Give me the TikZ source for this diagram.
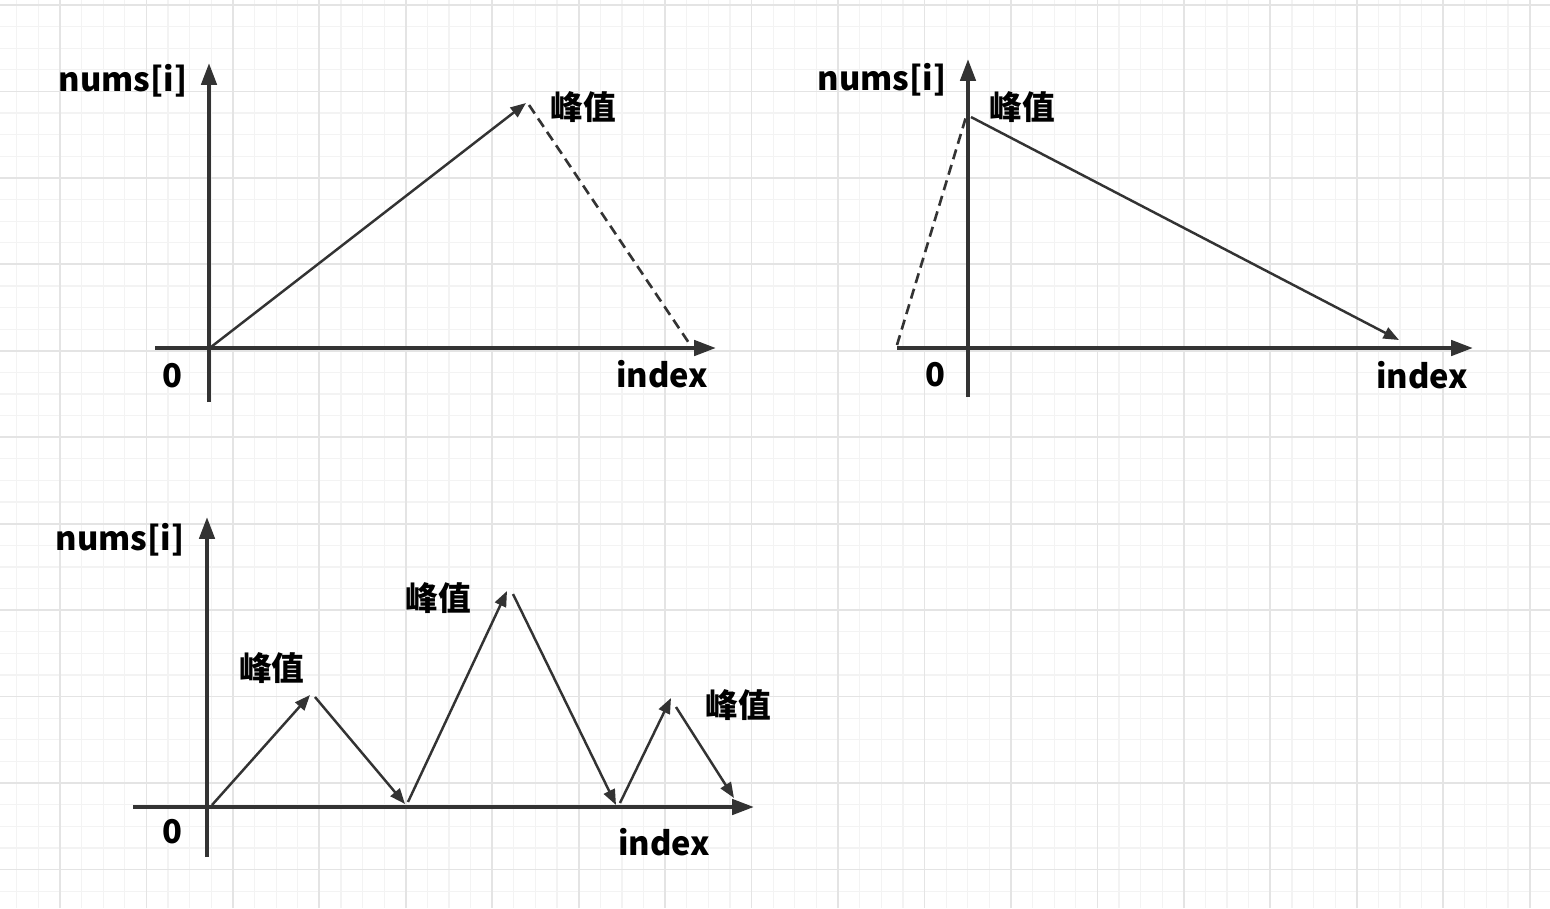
\documentclass[tikz,border=0pt]{standalone}
\usepackage{fontspec}
\newfontfamily\cjk{Noto Sans CJK SC}
\usepackage{tikz}
\usetikzlibrary{arrows.meta}
\definecolor{ink}{RGB}{51,51,51}
\definecolor{gridminor}{RGB}{243,243,243}
\definecolor{gridmajor}{RGB}{228,228,228}

\begin{document}
\begin{tikzpicture}[
    x=0.01cm, y=-0.01cm,
    font=\cjk\bfseries\fontsize{9.3}{11}\selectfont,
    minorline/.style={draw=gridminor, line width=0.35pt},
    majorline/.style={draw=gridmajor, line width=0.5pt},
    axisline/.style={draw=ink, line width=1.15pt, -{Triangle[length=6.2pt, width=4.3pt]}},
    trend/.style={draw=ink, line width=0.7pt, -{Triangle[length=4.4pt, width=3.4pt]}},
    guess/.style={draw=ink, line width=0.75pt, dash pattern=on 2.9pt off 1.7pt},
    lbl/.style={anchor=base, inner sep=0pt, text=black}
  ]

  \useasboundingbox (0,0) rectangle (1550,908);
  \fill[white] (0,0) rectangle (1550,908);
  \begin{scope}[shift={(60,5)}]
    \draw[minorline] (-60,903) grid[step=0.216cm] (1490,-5);
    \draw[majorline] (-60,903) grid[step=0.864cm] (1490,-5);
  \end{scope}

  % first chart
  \coordinate (b1) at (209,402);
  \coordinate (t1) at (209,63);
  \coordinate (l1) at (155,348);
  \coordinate (r1) at (716,348);
  \coordinate (o1) at (211,347);
  \coordinate (p1) at (526,103);
  \coordinate (q1) at (529,105);
  \coordinate (e1) at (689,343);

  \draw[axisline] (l1) -- (r1);
  \draw[axisline] (b1) -- (t1);
  \draw[trend] (o1) -- (p1);
  \draw[guess] (q1) -- (e1);

  \node[lbl] (ylab1) at (123,91) {nums[i]};
  \node[lbl] (zero1) at (172,387) {0};
  \node[lbl] (xlab1) at (662,387) {index};
  \node[lbl] (peak1) at (583,119) {峰值};

  % second chart
  \coordinate (b2) at (968,397);
  \coordinate (t2) at (968,59);
  \coordinate (l2) at (897,348);
  \coordinate (r2) at (1473,348);
  \coordinate (s2) at (897,345);
  \coordinate (q2) at (966,117);
  \coordinate (p2) at (971,117);
  \coordinate (e2) at (1399,340);

  \draw[axisline] (l2) -- (r2);
  \draw[axisline] (b2) -- (t2);
  \draw[guess] (s2) -- (q2);
  \draw[trend] (p2) -- (e2);

  \node[lbl] (ylab2) at (882,90) {nums[i]};
  \node[lbl] (zero2) at (935,386) {0};
  \node[lbl] (xlab2) at (1422,388) {index};
  \node[lbl] (peak2) at (1022,119) {峰值};

  % third chart
  \coordinate (b3) at (207,857);
  \coordinate (t3) at (207,517);
  \coordinate (l3) at (133,807);
  \coordinate (r3) at (754,807);

  \coordinate (u1) at (212,805);
  \coordinate (u2) at (310,695);
  \coordinate (u3) at (315,697);
  \coordinate (u4) at (405,804);
  \coordinate (u5) at (408,802);
  \coordinate (u6) at (507,591);
  \coordinate (u7) at (513,594);
  \coordinate (u8) at (616,805);
  \coordinate (u9) at (620,803);
  \coordinate (u10) at (671,698);
  \coordinate (u11) at (676,707);
  \coordinate (u12) at (734,798);

  \draw[axisline] (l3) -- (r3);
  \draw[axisline] (b3) -- (t3);
  \draw[trend] (u1) -- (u2);
  \draw[trend] (u3) -- (u4);
  \draw[trend] (u5) -- (u6);
  \draw[trend] (u7) -- (u8);
  \draw[trend] (u9) -- (u10);
  \draw[trend] (u11) -- (u12);

  \node[lbl] (ylab3) at (120,550) {nums[i]};
  \node[lbl] (zero3) at (172,843) {0};
  \node[lbl] (xlab3) at (664,855) {index};
  \node[lbl] (peak3a) at (272,680) {峰值};
  \node[lbl] (peak3b) at (438,610) {峰值};
  \node[lbl] (peak3c) at (738,717) {峰值};

\end{tikzpicture}
\end{document}
